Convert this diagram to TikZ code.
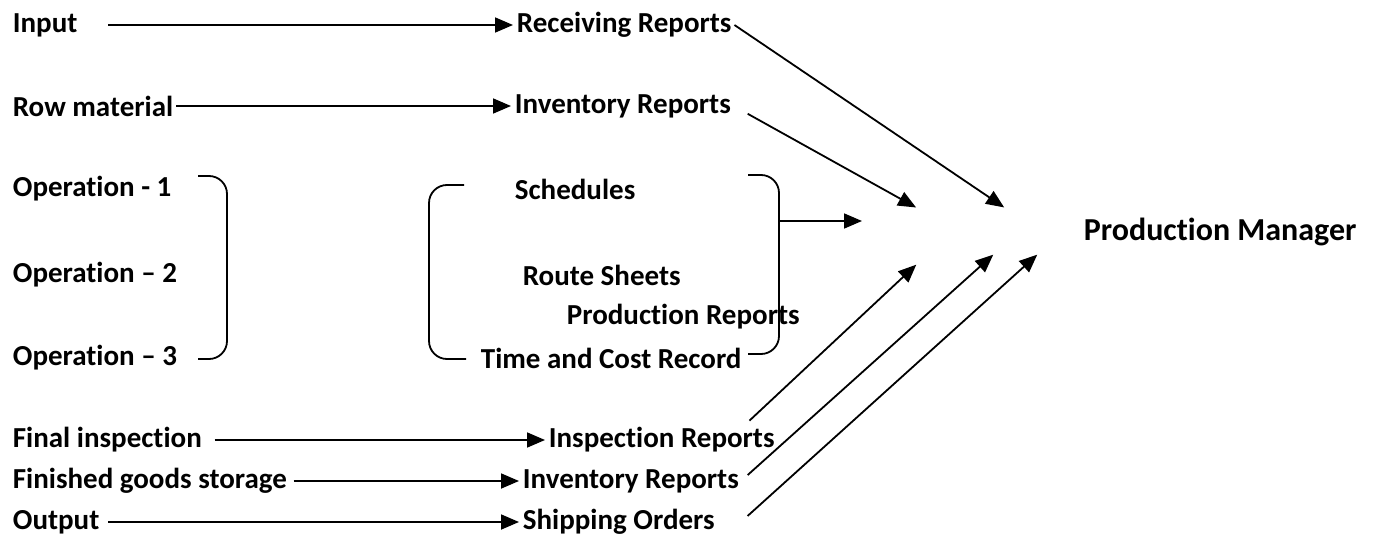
\documentclass[tikz,border=0pt]{standalone}
\usepackage{fontspec}
\setmainfont{Carlito}[Ligatures=NoCommon]
\usetikzlibrary{arrows.meta,positioning}

\begin{document}
\begin{tikzpicture}[x=1pt,y=-1pt,line width=1.8pt,>={Triangle[length=18pt,width=15pt]},
    every node/.style={inner sep=2pt,anchor=west},
    flow/.style={->,shorten >=1pt}]
      \fontsize{29}{34}\selectfont\bfseries
      \useasboundingbox (0,0) rectangle (1374,535);
      % sources
      \node (in_input) at (10,25)  {Input};
      \node (in_raw)   at (10,106) {Row material};
      \node (in_op1)   at (10,189) {Operation - 1};
      \node (in_op2)   at (10,275) {Operation -- 2};
      \node (in_op3)   at (10,358) {Operation -- 3};
      \node (in_final) at (10,440) {Final inspection};
      \node (in_store) at (10,481) {Finished goods storage};
      \node (in_out)   at (10,522) {Output};
      % reports
      \node (rep_recv)  at (514,25)  {Receiving Reports};
      \node (rep_inv)   at (512,106) {Inventory Reports};
      \node (rep_sched) at (512,189) {Schedules};
      \node (rep_route) at (520,275) {Route Sheets};
      \node (rep_prod)  at (564,317) {Production Reports};
      \node (rep_time)  at (478,358) {Time and Cost Record};
      \node (rep_insp)  at (546,440) {Inspection Reports};
      \node (rep_inv2)  at (520,481) {Inventory Reports};
      \node (rep_ship)  at (520,522) {Shipping Orders};
      \node[font=\fontsize{32}{38}\selectfont\bfseries] (pm) at (1081,232) {Production Manager};
      % arrow heads towards the manager
      \coordinate (brk)  at (779,221);
      \coordinate (brk_tip) at (863,221);
      \coordinate (pm_a) at (917,208);
      \coordinate (pm_b) at (1005,208);
      \coordinate (pm_c) at (917,264);
      \coordinate (pm_d) at (994,254);
      \coordinate (pm_e) at (1038,254);
      % brackets
      \draw[rounded corners=18pt] (198,176) -- (227,176) -- (227,359) -- (198,359);
      \draw[rounded corners=18pt] (464,185) -- (429,185) -- (429,359) -- (466,359);
      \draw[rounded corners=18pt] (748,175) -- (779,175) -- (779,354) -- (748,354);
      \path[flow]
      (in_input.east) edge [shorten <=28pt] (rep_recv.west)
      (in_raw.east) edge (rep_inv.west)
      (in_final.east) edge [shorten <=10pt] (rep_insp.west)
      (in_store.east) edge [shorten <=4pt] (rep_inv2.west)
      (in_out.east) edge [shorten <=6pt] (rep_ship.west)
      (rep_recv.east) edge (pm_b)
      (rep_inv.east) edge [shorten <=16pt] (pm_a)
      (brk) edge (brk_tip)
      ([xshift=-28pt,yshift=4pt]rep_insp.north east) edge (pm_c)
      ([xshift=6pt,yshift=6pt]rep_inv2.east) edge (pm_d)
      ([xshift=30pt,yshift=6pt]rep_ship.east) edge (pm_e)
      ; %end path
\end{tikzpicture}
\end{document}
